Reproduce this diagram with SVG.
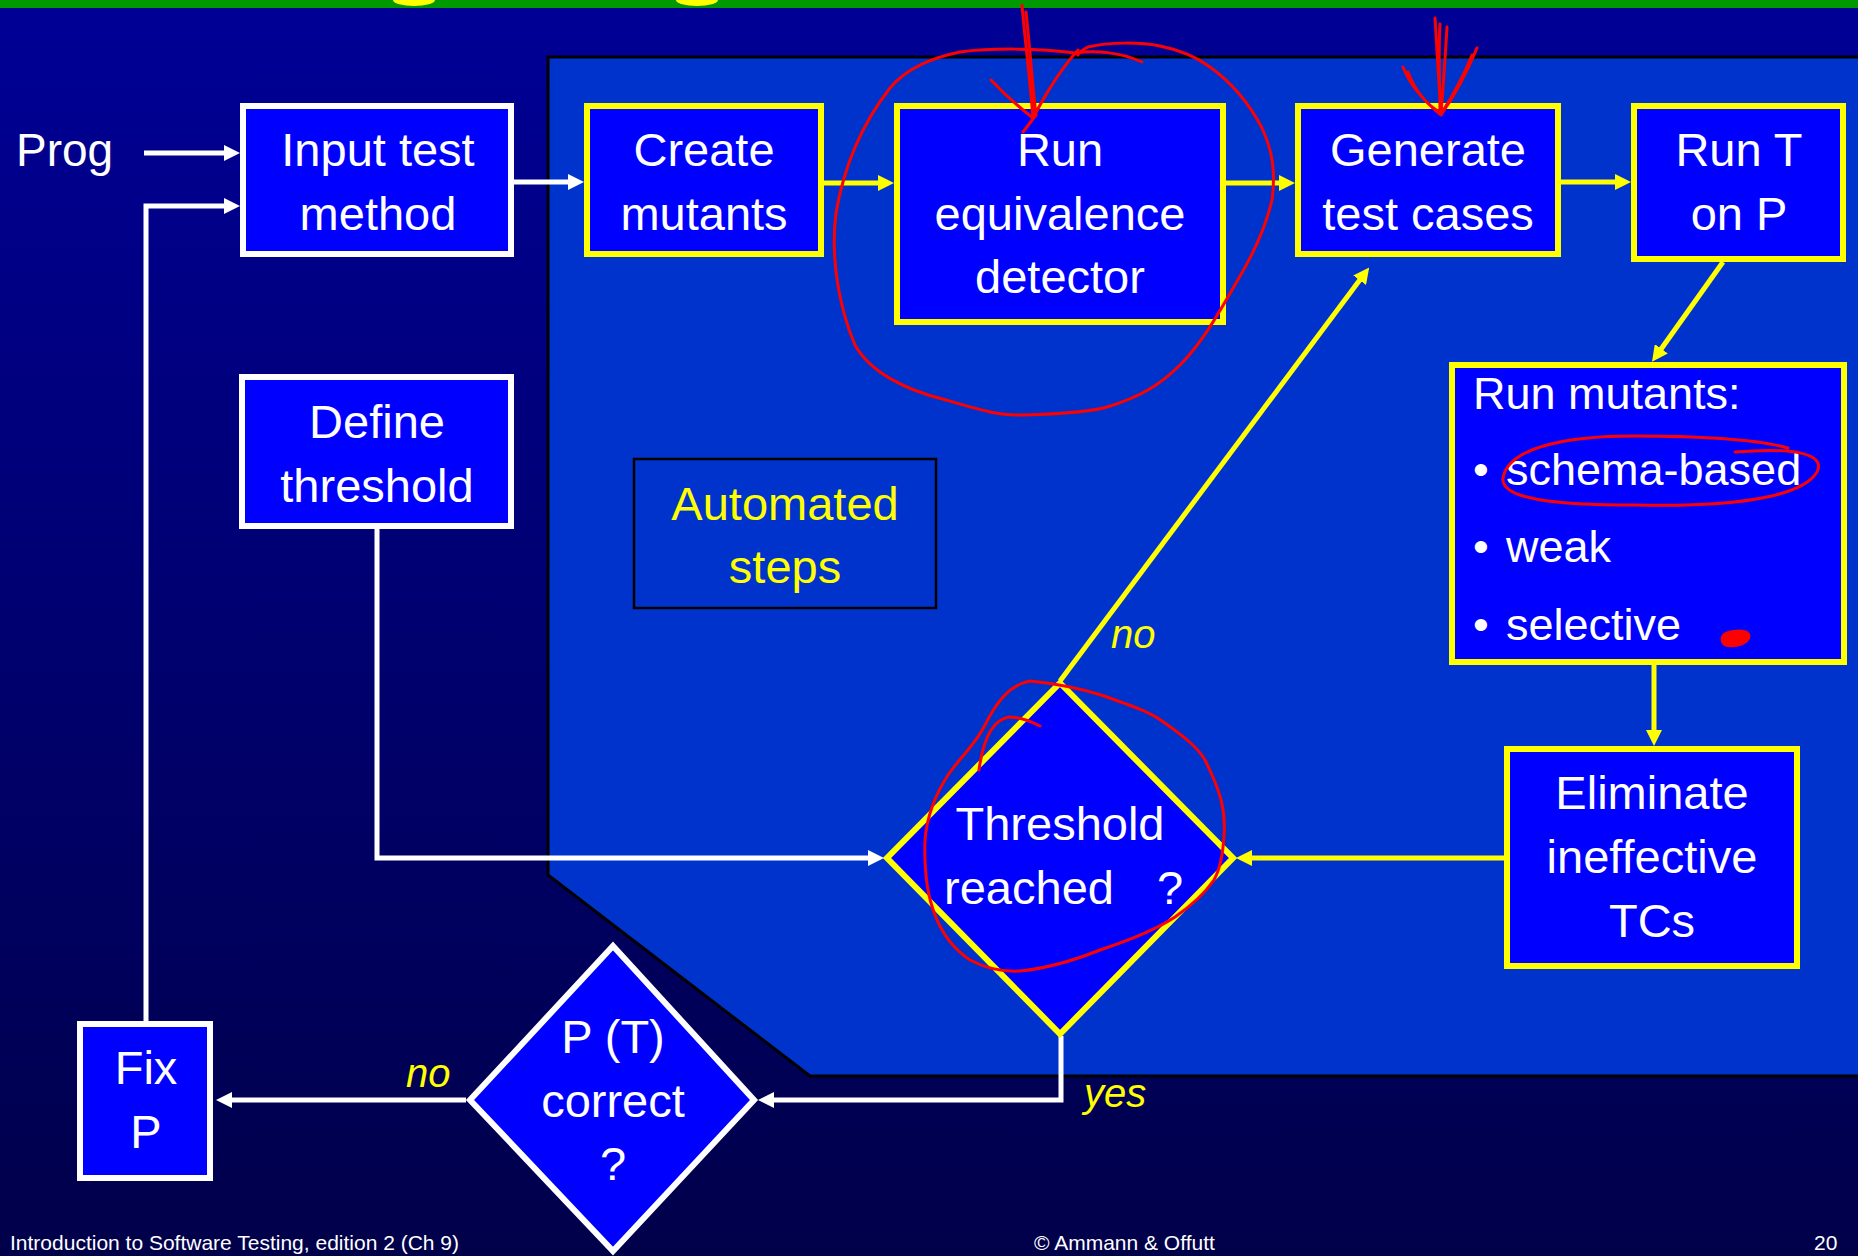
<svg xmlns="http://www.w3.org/2000/svg" width="1858" height="1256" viewBox="0 0 1858 1256">
<defs>
<linearGradient id="bg" x1="0" y1="0" x2="0" y2="1">
<stop offset="0" stop-color="#000096"/>
<stop offset="1" stop-color="#00004A"/>
</linearGradient>
<marker id="aw" viewBox="0 0 16 16" refX="4" refY="8" markerWidth="16" markerHeight="16" markerUnits="userSpaceOnUse" orient="auto"><path d="M0,0 L16,8 L0,16 z" fill="#FFFFFF"/></marker>
<marker id="ay" viewBox="0 0 16 16" refX="4" refY="8" markerWidth="16" markerHeight="16" markerUnits="userSpaceOnUse" orient="auto"><path d="M0,0 L16,8 L0,16 z" fill="#FFFF00"/></marker>
<style>
text{font-family:"Liberation Sans",Arial,sans-serif;}
.t{font-size:47px;fill:#FFFFFF;text-anchor:middle;}
.tl{font-size:45px;fill:#FFFFFF;}
.wn{fill:#0000FF;stroke:#FFFFFF;stroke-width:6;stroke-linejoin:miter;}
.yn{fill:#0000FF;stroke:#FFFF00;stroke-width:6;stroke-linejoin:miter;}
.cw{fill:none;stroke:#FFFFFF;stroke-width:5;marker-end:url(#aw);}
.cy{fill:none;stroke:#FFFF00;stroke-width:5;marker-end:url(#ay);}
.lab{font-size:40px;font-style:italic;fill:#FFFF00;}
.foot{font-size:21px;fill:#FFFFFF;}
.red{fill:none;stroke:#FF0000;stroke-width:3;stroke-linecap:round;stroke-linejoin:round;}
</style>
</defs>

<g id="background">
<rect x="0" y="0" width="1858" height="1256" fill="url(#bg)"/>
<rect x="0" y="0" width="1858" height="8" fill="#009900"/>
<ellipse cx="414" cy="0" rx="21" ry="6" fill="#FFFF00"/>
<ellipse cx="697" cy="0" rx="21" ry="6" fill="#FFFF00"/>
<polygon points="548,57 1861,57 1861,1076 810,1076 548,875" fill="#0033CC" stroke="#000000" stroke-width="3"/>
</g>

<g id="connectors">
<line class="cw" x1="144" y1="153" x2="228" y2="153"/>
<line class="cw" x1="514" y1="182" x2="572" y2="182"/>
<line class="cy" x1="822" y1="183" x2="882" y2="183"/>
<line class="cy" x1="1226" y1="183" x2="1283" y2="183"/>
<line class="cy" x1="1561" y1="182" x2="1619" y2="182"/>
<line class="cy" x1="1723" y1="262" x2="1659" y2="352"/>
<line class="cy" x1="1654" y1="665" x2="1654" y2="734"/>
<line class="cy" x1="1504" y1="858" x2="1248" y2="858"/>
<path class="cw" d="M377,529 V858 H872"/>
<line class="cy" x1="1060" y1="681" x2="1362" y2="277"/>
<path class="cw" d="M1061,1036 V1100 H770"/>
<line class="cw" x1="466" y1="1100" x2="228" y2="1100"/>
<path class="cw" d="M146,1021 V206 H228"/>
<text class="lab" x="1111" y="648">no</text>
<text class="lab" x="1084" y="1107">yes</text>
<text class="lab" x="406" y="1087">no</text>
</g>

<g id="prog">
<text class="tl" x="16" y="166" style="font-size:46px">Prog</text>
</g>

<g id="input-test-method">
<rect class="wn" x="243" y="106" width="268" height="148"/>
<text class="t" x="378" y="166">Input test</text>
<text class="t" x="378" y="230">method</text>
</g>

<g id="create-mutants">
<rect class="yn" x="587" y="106" width="234" height="148"/>
<text class="t" x="704" y="166">Create</text>
<text class="t" x="704" y="230">mutants</text>
</g>

<g id="run-equivalence-detector">
<rect class="yn" x="897" y="106" width="326" height="216"/>
<text class="t" x="1060" y="166">Run</text>
<text class="t" x="1060" y="230">equivalence</text>
<text class="t" x="1060" y="293">detector</text>
</g>

<g id="generate-test-cases">
<rect class="yn" x="1298" y="106" width="260" height="148"/>
<text class="t" x="1428" y="166">Generate</text>
<text class="t" x="1428" y="230">test cases</text>
</g>

<g id="run-t-on-p">
<rect class="yn" x="1634" y="106" width="209" height="153"/>
<text class="t" x="1739" y="166">Run T</text>
<text class="t" x="1739" y="230">on P</text>
</g>

<g id="run-mutants">
<rect class="yn" x="1452" y="365" width="392" height="297"/>
<text class="tl" x="1473" y="409">Run mutants:</text>
<text class="tl" x="1473" y="485">•</text>
<text class="tl" x="1506" y="485">schema-based</text>
<text class="tl" x="1473" y="562">•</text>
<text class="tl" x="1506" y="562">weak</text>
<text class="tl" x="1473" y="640">•</text>
<text class="tl" x="1506" y="640">selective</text>
</g>

<g id="eliminate-ineffective-tcs">
<rect class="yn" x="1507" y="749" width="290" height="217"/>
<text class="t" x="1652" y="809">Eliminate</text>
<text class="t" x="1652" y="873">ineffective</text>
<text class="t" x="1652" y="937">TCs</text>
</g>

<g id="define-threshold">
<rect class="wn" x="242" y="377" width="269" height="149"/>
<text class="t" x="377" y="438">Define</text>
<text class="t" x="377" y="502">threshold</text>
</g>

<g id="automated-steps">
<rect x="634" y="459" width="302" height="149" fill="none" stroke="#000000" stroke-width="2.5"/>
<text class="t" x="785" y="520" style="fill:#FFFF00">Automated</text>
<text class="t" x="785" y="583" style="fill:#FFFF00">steps</text>
</g>

<g id="threshold-reached">
<polygon class="yn" points="1060,683 1233,858 1060,1034 887,858"/>
<text class="t" x="1060" y="840">Threshold</text>
<text class="t" y="904"><tspan x="1029">reached</tspan><tspan x="1170">?</tspan></text>
</g>

<g id="pt-correct">
<polygon class="wn" points="613,946 754,1100 613,1251 470,1100"/>
<text class="t" x="613" y="1053">P (T)</text>
<text class="t" x="613" y="1117">correct</text>
<text class="t" x="613" y="1180">?</text>
</g>

<g id="fix-p">
<rect class="wn" x="80" y="1024" width="130" height="154"/>
<text class="t" x="146" y="1084">Fix</text>
<text class="t" x="146" y="1148">P</text>
</g>

<g id="footer">
<text class="foot" x="10" y="1250">Introduction to Software Testing, edition 2  (Ch 9)</text>
<text class="foot" x="1034" y="1250">© Ammann &amp; Offutt</text>
<text class="foot" x="1814" y="1250">20</text>
</g>

<g id="annotations">
<path class="red" d="M1142,62 C1120,52 1095,50 1075,53 C1040,48 990,48 960,52 C930,58 905,70 890,88 C865,120 845,160 836,213 C830,260 840,310 855,345 C870,372 905,390 946,400 C980,410 1000,416 1024,415 C1060,414 1090,412 1107,407 C1140,397 1160,385 1180,365 C1200,345 1215,320 1236,283 C1250,260 1265,230 1272,200 C1276,170 1272,150 1262,128 C1250,105 1235,85 1210,67 C1195,56 1180,50 1160,46 C1140,42 1110,42 1088,47 C1082,50 1078,53 1078,55"/>
<path class="red" d="M1022,5 C1025,40 1030,80 1033,118 M1026,12 C1030,50 1033,90 1036,115 M991,80 C1005,95 1020,108 1033,118 C1045,95 1060,70 1078,50 M1036,115 L1023,132"/>
<path class="red" d="M1435,18 C1437,50 1439,85 1441,115 M1440,24 C1438,60 1440,90 1440,112 M1447,27 C1445,60 1443,90 1441,113 M1403,67 C1410,85 1425,102 1441,115 C1455,95 1468,70 1477,48 M1408,72 C1415,92 1430,108 1442,113 M1472,55 C1462,80 1450,100 1441,114"/>
<path class="red" d="M1788,448 C1760,440 1700,436 1633,436 C1565,436 1508,448 1503,478 C1500,500 1560,505 1633,505 C1720,507 1800,500 1817,472 C1826,454 1795,447 1735,452"/>
<path d="M1724,634 C1730,630 1745,629 1749,634 C1752,641 1740,647 1728,646 C1721,645 1720,638 1724,634 Z" fill="#FF0000" stroke="#FF0000" stroke-width="2"/>
<path class="red" d="M1030,681 C1060,684 1085,690 1101,695 C1130,705 1150,712 1162,721 C1185,737 1198,748 1205,760 C1220,790 1226,810 1224,835 C1223,855 1220,869 1214,880 C1205,893 1195,903 1175,917 C1160,927 1130,940 1100,950 C1080,958 1050,968 1020,971 C1000,972 985,968 970,960 C955,950 943,936 935,915 C927,895 924,870 925,840 C927,815 935,795 948,775 C962,755 975,745 985,725 C995,705 1008,685 1030,681 M979,770 C983,740 992,720 1009,717 C1020,717 1032,722 1040,726"/>
</g>
</svg>
